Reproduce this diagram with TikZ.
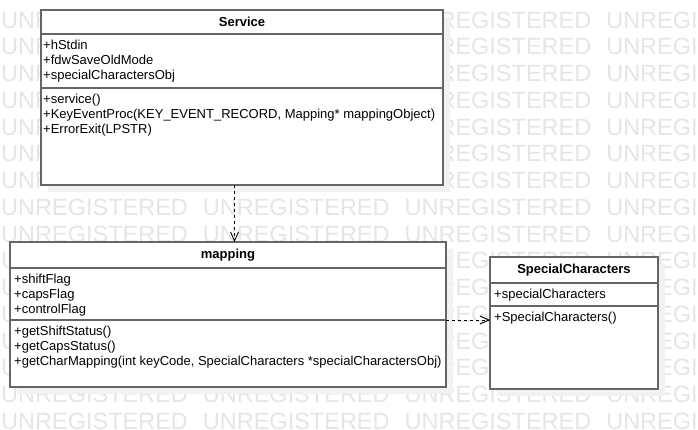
\documentclass[tikz,border=0pt]{standalone}
\usepackage{fontspec}
\setmainfont{Liberation Sans}
\usetikzlibrary{arrows.meta, shadows}
\definecolor{umlgray}{RGB}{102,102,102}

\begin{document}
\begin{tikzpicture}[x=1pt, y=-1pt, >={Straight Barb[length=9pt, width=8pt]},
    box/.style={draw=umlgray, line width=1.5pt, fill=white, anchor=north west,
        inner sep=0pt, outer sep=0pt,
        drop shadow={shadow xshift=7pt, shadow yshift=-7pt, fill=black!5, opacity=1}},
    ttl/.style={box, font=\bfseries\fontsize{13}{15}\selectfont},
    txt/.style={anchor=north west, align=left, inner xsep=4pt, inner ysep=5.5pt,
        font=\fontsize{13}{15}\selectfont},
    wm/.style={anchor=west, inner sep=0pt, text=black!10, font=\fontsize{23.5}{24}\selectfont},
    dep/.style={->, line width=0.9pt, dash pattern=on 3pt off 3pt}]
    \useasboundingbox (0,0) rectangle (698,430);

    % 水印
    \begin{scope}
        \clip (0,0) rectangle (698,430);
        \foreach \r in {0,...,15}
            \foreach \c in {0,...,3}
                \node[wm] (wm-\r-\c) at (1+\c*201.7, 20+\r*26.75) {UNREGISTERED};
    \end{scope}

    % Service 类
    \node[ttl, minimum width=402pt, minimum height=24pt] (svc) at (41,10) {Service};
    \node[box, minimum width=402pt, minimum height=54pt] (svcattr) at (svc.south west) {};
    \node[txt, inner xsep=2pt] (svcattrtxt) at (svcattr.north west)
        {+hStdin\\+fdwSaveOldMode\\+specialCharactersObj};
    \node[box, minimum width=402pt, minimum height=97pt] (svcops) at (svcattr.south west) {};
    \node[txt, inner xsep=2pt] (svcopstxt) at (svcops.north west)
        {+service()\\+KeyEventProc(KEY\_EVENT\_RECORD, Mapping* mappingObject)\\+ErrorExit(LPSTR)};

    % mapping 类
    \node[ttl, minimum width=436pt, minimum height=26pt] (map) at (10,242) {mapping};
    \node[box, minimum width=436pt, minimum height=52pt] (mapattr) at (map.south west) {};
    \node[txt] (mapattrtxt) at (mapattr.north west)
        {+shiftFlag\\+capsFlag\\+controlFlag};
    \node[box, minimum width=436pt, minimum height=67pt] (mapops) at (mapattr.south west) {};
    \node[txt] (mapopstxt) at (mapops.north west)
        {+getShiftStatus()\\+getCapsStatus()\\+getCharMapping(int keyCode, SpecialCharacters *specialCharactersObj)};

    % SpecialCharacters 类
    \node[ttl, minimum width=168pt, minimum height=26pt] (spc) at (490,257) {SpecialCharacters};
    \node[box, minimum width=168pt, minimum height=23pt] (spcattr) at (spc.south west) {};
    \node[txt] (spcattrtxt) at (spcattr.north west) {+specialCharacters};
    \node[box, minimum width=168pt, minimum height=83pt] (spcops) at (spcattr.south west) {};
    \node[txt] (spcopstxt) at (spcops.north west) {+SpecialCharacters()};

    % 依赖关系
    \coordinate (svcout) at ([xshift=-7.5pt]svcops.south);
    \draw[dep] (svcout) -- (svcout |- map.north);
    \draw[dep] (mapops.north east) -- (mapops.north east -| spcops.west);
\end{tikzpicture}
\end{document}
